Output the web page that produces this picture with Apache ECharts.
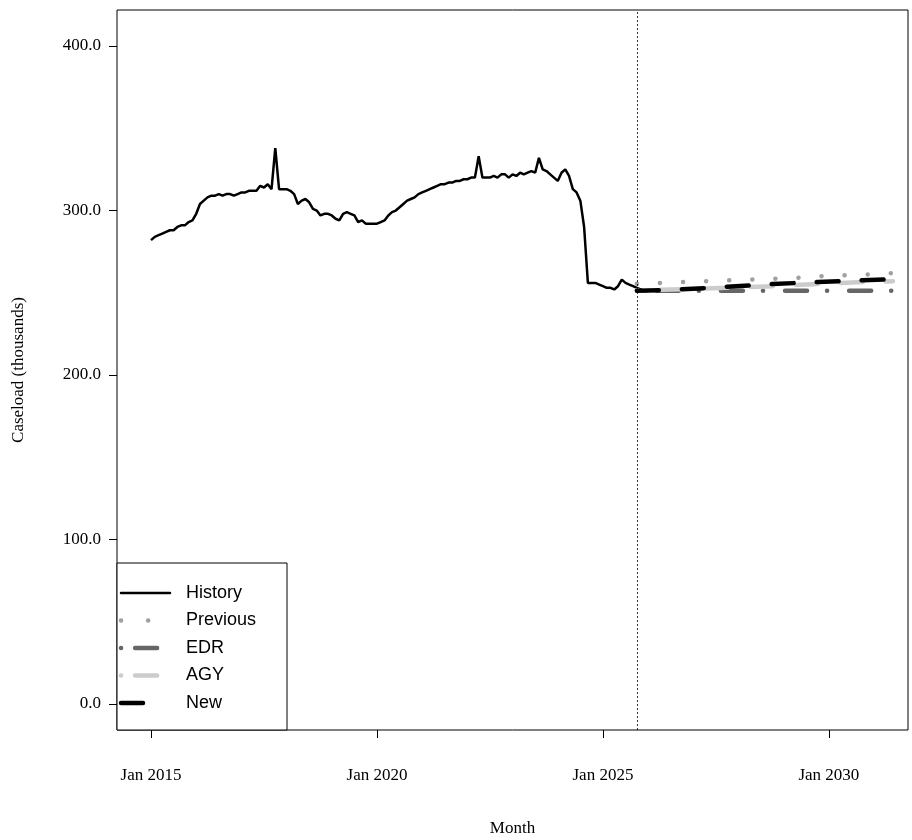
<!DOCTYPE html>
<html><head><meta charset="utf-8">
<script src="https://cdn.jsdelivr.net/npm/echarts@6/dist/echarts.min.js"></script>
<style>html,body{margin:0;padding:0;background:#fff}#c{width:912px;height:840px}</style>
</head><body><div id="c"></div>
<script>
// months counted from Jan 2015 (0 = Jan 2015)
const historyStart = 0;
const historyValues = [
 282,284,285,286,287,288,288,290,291,291,293,294,
 298,304,306,308,309,309,310,309,310,310,309,310,
 311,311,312,312,312,315,314,316,313,338,313,313,
 313,312,310,304,306,307,305,301,300,297,298,298,
 297,295,294,298,299,298,297,293,294,292,292,292,
 292,293,294,297,299,300,302,304,306,307,308,310,
 311,312,313,314,315,316,316,317,317,318,318,319,
 319,320,320,333,320,320,320,321,320,322,322,320,
 322,321,323,322,323,324,323,332,325,324,322,320,
 318,323,325,321,313,311,306,290,256,256,256,255,
 254,253,253,252,254,258,256,255,254,253,252,251,251
];
const forecastMonths = [129,135,141,147,153,159,165,171,177,183,189,197];
const previousValues = [255.5,256,256.5,257,257.5,258,258.5,259,260,260.5,261,262];
const edrValues      = [251.3,251.3,251.3,251.3,251.3,251.3,251.3,251.3,251.3,251.3,251.3,251.3];
const agyValues      = [251.5,251.8,252.2,252.6,253,253.5,254,254.7,255.3,256,256.5,257];
const newValues      = [251.2,251.6,252.2,252.8,253.7,254.4,255.3,255.9,256.5,257,257.6,258.2];
const xTicks = [0,60,120,180];
const xTickLabels = ['Jan 2015','Jan 2020','Jan 2025','Jan 2030'];
const yTicks = [0,100,200,300,400];
const forecastStart = 129;

const hist = historyValues.map((v,i)=>[historyStart+i,v]);
const fc = arr => forecastMonths.map((m,i)=>[m,arr[i]]);
const serif = 'Liberation Serif';
const sans = 'Liberation Sans';

const chart = echarts.init(document.getElementById('c'));
const legendItems = [
 {name:'History', color:'#000', dash:'solid', w:2.5},
 {name:'Previous', color:'#a0a0a0', dash:[0.1,27], w:4.5},
 {name:'EDR', color:'#666666', dash:[0.1,14,22,14], w:4.5},
 {name:'AGY', color:'#cccccc', dash:[0.1,14,22,14], w:4.5},
 {name:'New', color:'#000', dash:[22,200], w:4.5}
];
const graphics = [{type:'rect', shape:{x:117,y:563,width:170,height:167}, style:{fill:'#fff',stroke:'#000',lineWidth:1}}];
legendItems.forEach((it,i)=>{
  const y = 593 + i*27.5;
  graphics.push({type:'line', shape:{x1:121,y1:y,x2:170,y2:y}, style:{stroke:it.color,lineWidth:it.w,lineDash:it.dash==='solid'?null:it.dash,lineCap:'round'}});
  graphics.push({type:'text', x:186, y:y, style:{text:it.name, font:'18px '+sans, fill:'#000', verticalAlign:'middle'}});
});

chart.setOption({
  animation:false,
  grid:{left:117,right:4,top:10,bottom:110,show:true,borderColor:'#000',borderWidth:1,outerBoundsMode:'none',containLabel:false},
  xAxis:{type:'value',min:-9.03,max:201,
    name:'Month',nameLocation:'middle',nameGap:90,nameTextStyle:{fontFamily:serif,fontSize:17,color:'#000'},
    axisLine:{show:false,onZero:false},splitLine:{show:false},
    axisTick:{show:true,inside:false,length:8,customValues:xTicks,lineStyle:{color:'#000'}},
    axisLabel:{customValues:xTicks,formatter:v=>xTickLabels[xTicks.indexOf(v)]||'',fontFamily:serif,fontSize:17,color:'#000',margin:37}},
  yAxis:{type:'value',min:-15.8,max:421.9,
    name:'Caseload (thousands)',nameLocation:'middle',nameGap:90,nameRotate:90,nameTextStyle:{fontFamily:serif,fontSize:17,color:'#000'},
    axisLine:{show:false,onZero:false},splitLine:{show:false},
    axisTick:{show:true,length:8,customValues:yTicks,lineStyle:{color:'#000'}},
    axisLabel:{customValues:yTicks,formatter:v=>v.toFixed(1),fontFamily:serif,fontSize:17,color:'#000',margin:16}},
  graphic:graphics,
  series:[
    {name:'History',type:'line',data:hist,showSymbol:false,lineStyle:{color:'#000',width:2.5},
     markLine:{silent:true,symbol:'none',label:{show:false},lineStyle:{color:'#000',type:[2,2],width:0.8},data:[{xAxis:forecastStart}]}},
    {name:'Previous',type:'line',data:fc(previousValues),showSymbol:false,lineStyle:{color:'#a0a0a0',width:4.5,type:[0.1,23],cap:'round'}},
    {name:'EDR',type:'line',data:fc(edrValues),showSymbol:false,lineStyle:{color:'#666666',width:4.5,type:[22,20,0.1,22],cap:'round',dashOffset:-20}},
    {name:'AGY',type:'line',data:fc(agyValues),showSymbol:false,lineStyle:{color:'#cccccc',width:4.5,type:[22,23],cap:'round',dashOffset:-24}},
    {name:'New',type:'line',data:fc(newValues),showSymbol:false,lineStyle:{color:'#000',width:4.5,type:[22,23],cap:'round'}}
  ]
});
</script></body></html>
